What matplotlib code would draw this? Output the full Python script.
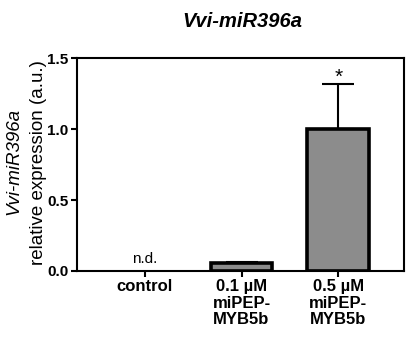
import matplotlib
matplotlib.use("Agg")
import matplotlib.pyplot as plt

plt.rcParams['font.family'] = ['Liberation Sans', 'DejaVu Sans']

# data
categories = ['control', '0.1 µM\nmiPEP-\nMYB5b', '0.5 µM\nmiPEP-\nMYB5b']
values = [0.0, 0.054, 1.0]
errors = [0.0, 0.012, 0.32]
annotations = ['n.d.', '', '*']
yticks = [0.0, 0.5, 1.0, 1.5]


def main():
    fig = plt.figure(figsize=(4.07, 3.40), dpi=100)
    ax = fig.add_axes([0.189, 0.203, 0.804, 0.626])

    x = list(range(len(categories)))
    ax.bar(x[1:], values[1:], width=0.64, color='#8c8c8c',
           edgecolor='black', linewidth=2.6, zorder=2)
    for xi, v, e in zip(x, values, errors):
        if e > 0:
            ax.errorbar(xi, v, yerr=[[0], [e]], fmt='none', ecolor='black',
                        elinewidth=1.5, capsize=11.5, capthick=1.5, zorder=1)

    ax.text(x[0], 0.035, annotations[0], ha='center', va='bottom', fontsize=11)
    ax.text(x[2], values[2] + errors[2] - 0.02, annotations[2],
            ha='center', va='bottom', fontsize=15)

    ax.set_xlim(-0.70, 2.68)
    ax.set_ylim(0, 1.5)
    ax.set_yticks(yticks)
    ax.set_yticklabels(['0.0', '0.5', '1.0', '1.5'], fontsize=11, fontweight='bold')
    ax.set_xticks(x)
    ax.set_xticklabels(categories, fontsize=12, fontweight='bold', linespacing=1.12)
    ax.tick_params(axis='both', width=1.5, length=4, direction='out', pad=2)

    for s in ax.spines.values():
        s.set_linewidth(1.5)

    fig.text(0.595, 0.937, 'Vvi-miR396a', ha='center', va='center',
             fontsize=14.5, fontweight='bold', style='italic')
    fig.text(0.034, 0.526, 'Vvi-miR396a', rotation=90, ha='center', va='center',
             fontsize=13.5, style='italic')
    fig.text(0.095, 0.522, 'relative expression (a.u.)', rotation=90,
             ha='center', va='center', fontsize=13.5)

    fig.savefig('out.png', dpi=100)


if __name__ == "__main__":
    main()
